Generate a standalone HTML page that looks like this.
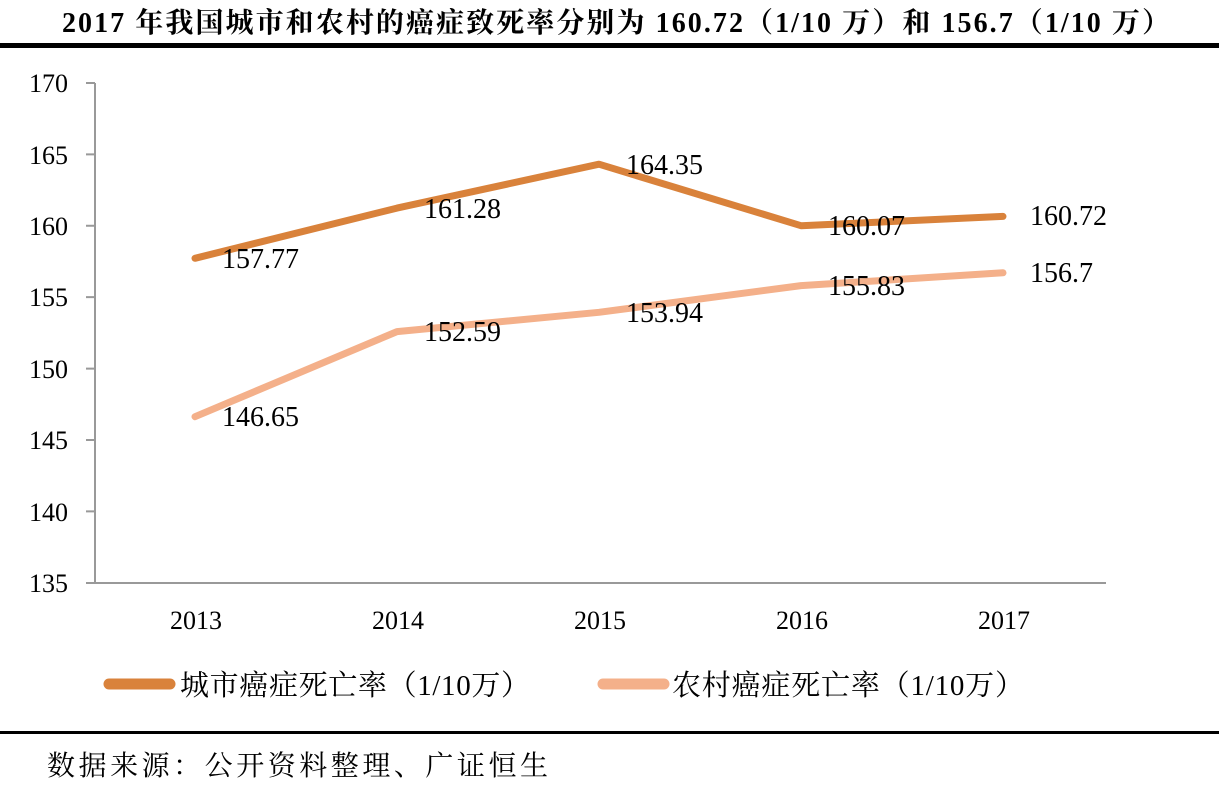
<!DOCTYPE html>
<html><head><meta charset="utf-8"><style>
body{margin:0;background:#fff;width:1219px;height:786px;overflow:hidden}
svg text{font-family:"Liberation Serif","Noto Serif CJK SC",serif}
</style></head><body>
<svg width="1219" height="786" xmlns="http://www.w3.org/2000/svg">
<text x="62" y="32" textLength="1108" lengthAdjust="spacing" font-size="28" font-weight="bold" fill="#000">2017 年我国城市和农村的癌症致死率分别为 160.72（1/10 万）和 156.7（1/10 万）</text>
<rect x="0" y="43" width="1219" height="5" fill="#000"/>
<g stroke="#999" stroke-width="2" fill="none">
<path d="M95 83V583H1106"/>
<path d="M86 83H95M86 154.4H95M86 225.7H95M86 297.1H95M86 368.6H95M86 440H95M86 511.4H95M86 583H95"/>
</g>
<g font-size="26" fill="#000" text-anchor="end">
<text x="68" y="92">170</text><text x="68" y="164">165</text><text x="68" y="235">160</text><text x="68" y="306">155</text><text x="68" y="378">150</text><text x="68" y="449">145</text><text x="68" y="521">140</text><text x="68" y="592">135</text>
</g>
<g font-size="26" fill="#000" text-anchor="middle">
<text x="196" y="629">2013</text><text x="398" y="629">2014</text><text x="600" y="629">2015</text><text x="802" y="629">2016</text><text x="1004" y="629">2017</text>
</g>
<polyline points="195,258.3 397,208.1 599,164.2 801,225.7 1003,216.4" fill="none" stroke="#D9823B" stroke-width="7" stroke-linejoin="round" stroke-linecap="round"/>
<polyline points="195,416.7 397,331.6 599,312.3 801,285.6 1003,272.8" fill="none" stroke="#F4B08A" stroke-width="7" stroke-linejoin="round" stroke-linecap="round"/>
<g font-size="28" fill="#000">
<text x="222" y="268">157.77</text><text x="424" y="218">161.28</text><text x="626" y="174">164.35</text><text x="828" y="235">160.07</text><text x="1030" y="225">160.72</text>
<text x="222" y="426">146.65</text><text x="424" y="341">152.59</text><text x="626" y="322">153.94</text><text x="828" y="295">155.83</text><text x="1030" y="282">156.7</text>
</g>
<line x1="109" y1="684" x2="170" y2="684" stroke="#D9823B" stroke-width="11" stroke-linecap="round"/>
<text x="180" y="695" textLength="350" lengthAdjust="spacing" font-size="29" fill="#000">城市癌症死亡率（1/10万）</text>
<line x1="603" y1="684" x2="664" y2="684" stroke="#F4B08A" stroke-width="11" stroke-linecap="round"/>
<text x="672" y="695" textLength="352" lengthAdjust="spacing" font-size="29" fill="#000">农村癌症死亡率（1/10万）</text>
<rect x="0" y="731" width="1219" height="3" fill="#000"/>
<text x="47" y="775" textLength="501" lengthAdjust="spacing" font-size="28" fill="#000">数据来源：公开资料整理、广证恒生</text>
</svg>
</body></html>
